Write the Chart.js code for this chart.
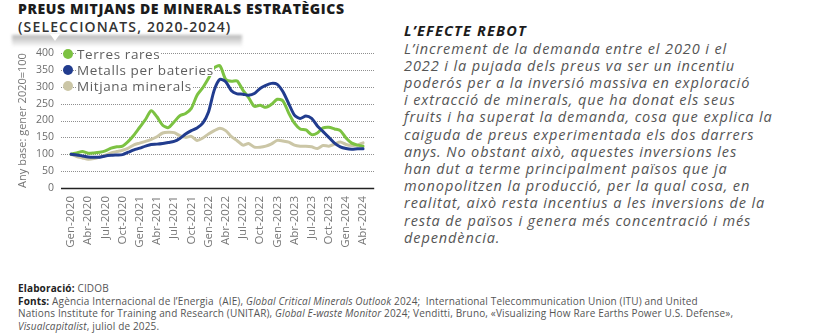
<!DOCTYPE html>
<html lang="ca">
<head>
<meta charset="utf-8">
<script src="https://cdn.jsdelivr.net/npm/chart.js@4.4.1/dist/chart.umd.min.js"></script>
<style>
  html, body { margin: 0; padding: 0; background: #fff; }
  body { width: 826px; height: 335px; position: relative; overflow: hidden; font-family: "Open Sans", sans-serif; }
  .t1 { position: absolute; left: 18px; top: 0px; font-size: 14px; line-height: 18px; font-weight: 800; color: #1c1c1c; letter-spacing: 0.6px; white-space: nowrap; }
  .t2 { position: absolute; left: 18px; top: 18px; font-size: 14px; line-height: 18px; font-weight: 600; color: #333; letter-spacing: 1.15px; white-space: nowrap; }
  #shade { position: absolute; left: 12px; top: 35px; width: 230px; height: 12px;
           background: linear-gradient(rgba(120,120,120,0.55), rgba(255,255,255,0)); filter: blur(1.5px); }
  #notch { position: absolute; left: 50px; top: 34px; width: 0; height: 0;
           border-left: 5px solid transparent; border-right: 5px solid transparent; border-top: 7px solid #fff; }
  #wrap { position: absolute; left: 0; top: 40px; width: 385px; height: 215px; }
  #legend .row { position: absolute; left: 63px; height: 16px; display: flex; align-items: center; }
  #legend .dot { width: 10px; height: 10px; border-radius: 50%; }
  #legend .txt { margin-left: 4px; background: #fff; font-size: 13.5px; line-height: 11px; letter-spacing: 0.6px; color: #5e5e5e; white-space: nowrap; }
  #side { position: absolute; left: 404px; top: 22px; color: #555; font-style: italic; white-space: nowrap; }
  #side h2 { margin: 0; font-size: 14.5px; line-height: 18px; font-weight: 700; color: #1c1c1c; letter-spacing: 1.2px; }
  #side p { margin: 0; position: absolute; top: 17.6px; left: 0; font-size: 14.5px; line-height: 17.2px; letter-spacing: 0.9px; }
  #foot { position: absolute; left: 18px; top: 282px; font-size: 10px; line-height: 12.6px; letter-spacing: 0.15px; color: #555; white-space: nowrap; }
  #foot b { color: #222; }
</style>
</head>
<body>
<div class="t1">PREUS MITJANS DE MINERALS ESTRATÈGICS</div>
<div class="t2">(SELECCIONATS, 2020-2024)</div>
<div id="shade"></div>
<div id="notch"></div>
<div id="wrap"><canvas id="c" width="385" height="215"></canvas></div>
<div id="legend"></div>

<div id="side">
  <h2>L’EFECTE REBOT</h2>
  <p>L’increment de la demanda entre el 2020 i el<br>
2022 i la pujada dels preus va ser un incentiu<br>
poderós per a la inversió massiva en exploració<br>
i extracció de minerals, que ha donat els seus<br>
fruits i ha superat la demanda, cosa que explica la<br>
caiguda de preus experimentada els dos darrers<br>
anys. No obstant això, aquestes inversions les<br>
han dut a terme principalment països que ja<br>
monopolitzen la producció, per la qual cosa, en<br>
realitat, això resta incentius a les inversions de la<br>
resta de països i genera més concentració i més<br>
dependència.</p>
</div>

<div id="foot">
  <b>Elaboració:</b> CIDOB<br>
  <b>Fonts:</b> Agència Internacional de l’Energia &nbsp;(AIE), <i>Global Critical Minerals Outlook</i> 2024; &nbsp;International Telecommunication Union (ITU) and United<br>
  Nations Institute for Training and Research (UNITAR), <i>Global E-waste Monitor</i> 2024; Venditti, Bruno, «Visualizing How Rare Earths Power U.S. Defense»,<br>
  <i>Visualcapitalist</i>, juliol de 2025.
</div>

<script>
// Months from Jan 2020 to Apr 2024 (Catalan abbreviations)
const monthNames = ['Gen','Feb','Mar','Abr','Mai','Jun','Jul','Ago','Set','Oct','Nov','Des'];
const years = [2020, 2021, 2022, 2023, 2024];
const months = [];
years.forEach(y => monthNames.forEach((m, k) => { if (y < 2024 || k < 4) months.push(m + '-' + y); }));

// Labels shown on the horizontal axis
const tickLabels = ['Gen-2020','Abr-2020','Jul-2020','Oct-2020','Gen-2021','Abr-2021','Jul-2021','Oct-2021',
  'Gen-2022','Abr-2022','Jul-2022','Oct-2022','Gen-2023','Abr-2023','Jul-2023','Oct-2023','Gen-2024','Abr-2024'];

// Price index, base January 2020 = 100
const terresRares = [100,104,108,103,104,106,110,118,122,124,
                     138,157,180,203,229,211,186,179,196,214,
                     221,236,275,297,325,356,362,322,316,317,
                     290,268,242,245,239,248,263,258,222,192,
                     175,172,158,163,178,180,175,170,148,133,
                     127,124];
const metallsBateries = [100,98,95,92,91,91,95,97,98,99,
                         106,113,118,124,129,130,132,135,138,147,
                         160,170,178,192,225,290,322,315,288,279,
                         278,275,280,295,304,310,307,285,250,216,
                         206,213,206,184,167,150,133,122,117,115,
                         116,116];
const mitjanaMinerals = [100,93,89,85,87,92,97,104,108,112,
                         118,128,133,138,144,152,163,165,164,155,
                         150,153,141,148,160,170,177,170,152,140,
                         127,132,121,121,124,131,141,139,136,127,
                         124,124,122,117,126,124,130,136,129,126,
                         127,134];

const seriesNames = ['Terres rares', 'Metalls per bateries', 'Mitjana minerals'];
const seriesColors = ['#7cc242', '#213c8e', '#cbc6a6'];
const yTitle = 'Any base: gener 2020=100';

// Dotted horizontal grid and solid baseline, slightly wider than the plot area
const gridPlugin = {
  id: 'dottedGrid',
  beforeDatasetsDraw(chart) {
    const { ctx, chartArea: a, scales: { y } } = chart;
    ctx.save();
    y.ticks.forEach(t => {
      const py = Math.round(y.getPixelForValue(t.value)) + 0.5;
      ctx.beginPath();
      if (t.value === 0) {
        ctx.setLineDash([]);
        ctx.strokeStyle = '#222';
        ctx.lineWidth = 1.5;
      } else {
        ctx.setLineDash([1, 1]);
        ctx.strokeStyle = '#8f8f8f';
        ctx.lineWidth = 1;
      }
      ctx.moveTo(a.left - 10, py);
      ctx.lineTo(a.right + 11, py);
      ctx.stroke();
    });
    ctx.restore();
  }
};

const dataSeries = [terresRares, metallsBateries, mitjanaMinerals];
const drawOrder = [1, 0, 2];

const chart = new Chart(document.getElementById('c'), {
  type: 'line',
  data: {
    labels: months,
    datasets: dataSeries.map((d, k) => ({
      label: seriesNames[k],
      data: d,
      borderColor: seriesColors[k],
      backgroundColor: seriesColors[k],
      borderWidth: 3,
      pointRadius: 0,
      tension: 0.25,
      borderJoinStyle: 'round',
      borderCapStyle: 'round',
      order: drawOrder[k]
    }))
  },
  options: {
    responsive: false,
    animation: false,
    devicePixelRatio: 1,
    layout: { padding: { left: 0, right: 17, top: 13, bottom: 0 } },
    plugins: { legend: { display: false }, tooltip: { enabled: false } },
    scales: {
      x: {
        grid: { display: false, drawTicks: false },
        border: { display: false },
        ticks: {
          autoSkip: false, minRotation: 90, maxRotation: 90, padding: 8,
          color: '#777', font: { family: 'Open Sans', size: 11.5 },
          callback: (v, i) => tickLabels.includes(months[i]) ? months[i] : ''
        },
        afterFit: s => { s.height = 67; }
      },
      y: {
        min: 0, max: 400,
        grid: { display: false, drawTicks: true, tickLength: 17 },
        border: { display: false },
        ticks: { stepSize: 50, padding: 0, color: '#6d6d6d', font: { family: 'Open Sans', size: 10.5 } },
        title: { display: true, text: yTitle, color: '#777', font: { family: 'Open Sans', size: 11 }, padding: { top: 16, bottom: 0 } },
        afterFit: s => { s.width = 71; }
      }
    }
  },
  plugins: [gridPlugin]
});

// Legend placed over the top-left of the plot
const legend = document.getElementById('legend');
const rowTops = [46, 62, 78];
seriesNames.forEach((name, k) => {
  const row = document.createElement('div');
  row.className = 'row';
  row.style.top = rowTops[k] + 'px';
  const dot = document.createElement('span');
  dot.className = 'dot';
  dot.style.background = seriesColors[k];
  const txt = document.createElement('span');
  txt.className = 'txt';
  txt.textContent = name;
  row.appendChild(dot);
  row.appendChild(txt);
  legend.appendChild(row);
});
</script>
</body>
</html>
